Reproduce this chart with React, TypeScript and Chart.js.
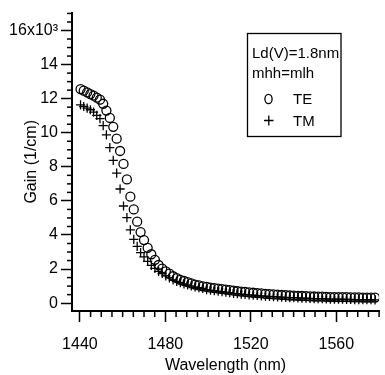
import React, { useEffect, useRef } from 'react';
import { Chart, registerables } from 'chart.js';

Chart.register(...registerables);

// Wavelength (nm)
const wavelength = [
  1440.3, 1441.8, 1443.4, 1444.9, 1446.4, 1447.9, 1449.4, 1450.9, 1452.4, 1454.0,
  1455.6, 1457.2, 1458.8, 1460.4, 1462.0, 1463.6, 1465.2, 1466.8, 1468.4, 1470.0,
  1471.7, 1473.4, 1475.1, 1476.8, 1478.5, 1480.2, 1481.9, 1483.6, 1485.3, 1487.0,
  1488.7, 1490.4, 1492.1, 1493.9, 1495.7, 1497.5, 1499.3, 1501.1, 1502.9, 1504.7,
  1506.5, 1508.3, 1510.1, 1511.9, 1513.7, 1515.5, 1517.3, 1519.2, 1521.1, 1523.0,
  1524.9, 1526.8, 1528.7, 1530.6, 1532.5, 1534.4, 1536.3, 1538.2, 1540.1, 1542.0,
  1543.9, 1545.8, 1547.7, 1549.6, 1551.5, 1553.4, 1555.3, 1557.2, 1559.1, 1561.0,
  1562.9, 1564.8, 1566.7, 1568.6, 1570.5, 1572.4, 1574.3, 1576.2, 1578.1,
];

// Gain, in units of 10^3 1/cm
const gainTE = [
  12.56, 12.47, 12.37, 12.27, 12.18, 12.06, 11.94, 11.70, 11.30, 10.87,
  10.35, 9.65, 8.93, 8.17, 7.26, 6.25, 5.50, 4.78, 4.17, 3.70,
  3.25, 2.87, 2.54, 2.24, 2.03, 1.86, 1.73, 1.58, 1.47, 1.37,
  1.30, 1.23, 1.16, 1.09, 1.04, 0.99, 0.95, 0.91, 0.88, 0.85,
  0.82, 0.79, 0.76, 0.73, 0.70, 0.68, 0.66, 0.63, 0.61, 0.59,
  0.57, 0.55, 0.53, 0.51, 0.50, 0.48, 0.47, 0.45, 0.44, 0.43,
  0.42, 0.41, 0.40, 0.39, 0.38, 0.38, 0.37, 0.36, 0.36, 0.35,
  0.35, 0.35, 0.34, 0.34, 0.34, 0.33, 0.33, 0.33, 0.33,
];

const gainTM = [
  11.64, 11.54, 11.45, 11.35, 11.21, 11.02, 10.83, 10.42, 9.88, 9.13,
  8.38, 7.63, 6.70, 5.70, 5.02, 4.30, 3.74, 3.33, 2.96, 2.72,
  2.45, 2.22, 2.04, 1.87, 1.74, 1.60, 1.48, 1.37, 1.28, 1.20,
  1.13, 1.07, 1.01, 0.96, 0.91, 0.87, 0.80, 0.76, 0.73, 0.70,
  0.67, 0.64, 0.61, 0.58, 0.56, 0.53, 0.51, 0.49, 0.47, 0.45,
  0.43, 0.41, 0.40, 0.38, 0.37, 0.35, 0.34, 0.33, 0.32, 0.31,
  0.30, 0.29, 0.28, 0.27, 0.26, 0.26, 0.25, 0.24, 0.24, 0.23,
  0.23, 0.22, 0.22, 0.21, 0.21, 0.20, 0.20, 0.20, 0.19,
];

const xTickValues = [1440, 1480, 1520, 1560];
const yTickValues = [0, 2, 4, 6, 8, 10, 12, 14, 16];
const yTickLabels = ['0', '2', '4', '6', '8', '10', '12', '14', '16x10³'];
const legendNotes = ['Ld(V)=1.8nm', 'mhh=mlh'];
const seriesNames = ['TE', 'TM'];
const xTitle = 'Wavelength (nm)';
const yTitle = 'Gain (1/cm)';

const FONT = "'Liberation Sans', Arial, sans-serif";

const decorPlugin = {
  id: 'decor',
  afterDraw(chart: any) {
    const { ctx, scales } = chart;
    const x = scales.x;
    const y = scales.y;
    const left = chart.chartArea.left;
    const bottom = chart.chartArea.bottom;
    ctx.save();
    ctx.strokeStyle = '#000';
    ctx.lineWidth = 1.5;
    // minor y ticks
    for (let i = 1; i <= 34; i++) {
      const v = i * 0.5;
      if (i % 4 === 0) continue;
      const py = y.getPixelForValue(v);
      ctx.beginPath();
      ctx.moveTo(left - 5, py);
      ctx.lineTo(left, py);
      ctx.stroke();
    }
    // minor x ticks
    for (let v = 1440; v <= 1580; v += 5) {
      if (v % 40 === 0) continue;
      const px = x.getPixelForValue(v);
      ctx.beginPath();
      ctx.moveTo(px, bottom);
      ctx.lineTo(px, bottom + 6);
      ctx.stroke();
    }
    // legend box
    ctx.lineWidth = 1.3;
    ctx.strokeRect(247.5, 33.5, 93.5, 103);
    ctx.fillStyle = '#000';
    ctx.font = "15px " + FONT;
    ctx.textBaseline = 'alphabetic';
    ctx.textAlign = 'left';
    ctx.fillText(legendNotes[0], 252, 58);
    ctx.fillText(legendNotes[1], 252, 78);
    ctx.fillText(seriesNames[0], 293, 104);
    ctx.fillText(seriesNames[1], 293, 126);
    // legend symbols
    ctx.lineWidth = 1.3;
    ctx.beginPath();
    ctx.ellipse(268.5, 99, 3.6, 4.6, 0, 0, Math.PI * 2);
    ctx.stroke();
    ctx.beginPath();
    ctx.moveTo(264, 120.5);
    ctx.lineTo(273.5, 120.5);
    ctx.moveTo(268.8, 115.5);
    ctx.lineTo(268.8, 125.5);
    ctx.stroke();
    ctx.restore();
  },
};

export default function App() {
  const ref = useRef<HTMLCanvasElement>(null);
  useEffect(() => {
    if (!ref.current) return;
    const chart = new Chart(ref.current, {
      type: 'scatter',
      data: {
        datasets: [
          {
            label: seriesNames[0],
            data: wavelength.map((w, i) => ({ x: w, y: gainTE[i] })),
            pointStyle: 'circle',
            pointRadius: 4.5,
            pointBorderWidth: 1.3,
            borderColor: '#000',
            backgroundColor: 'rgba(0,0,0,0)',
            showLine: false,
          },
          {
            label: seriesNames[1],
            data: wavelength.map((w, i) => ({ x: w, y: gainTM[i] })),
            pointStyle: 'cross',
            pointRadius: 4.6,
            pointBorderWidth: 1.3,
            borderColor: '#000',
            backgroundColor: '#000',
            showLine: false,
          },
        ],
      },
      options: {
        responsive: false,
        animation: false,
        layout: { padding: { top: 8, left: 0, right: 0, bottom: 0 } },
        plugins: {
          legend: { display: false },
          tooltip: { enabled: false },
        },
        scales: {
          x: {
            type: 'linear',
            min: 1436.3,
            max: 1580,
            afterBuildTicks: (s: any) => {
              s.ticks = xTickValues.map((v) => ({ value: v }));
            },
            afterFit: (s: any) => {
              s.height = 64;
            },
            ticks: {
              color: '#000',
              font: { family: FONT, size: 16 },
              padding: 13,
              maxRotation: 0,
              autoSkip: false,
              callback: (v: any) => String(v),
            },
            grid: {
              display: true,
              drawOnChartArea: false,
              drawTicks: true,
              tickLength: 11,
              tickWidth: 1.5,
              tickColor: '#000',
            },
            border: { display: true, color: '#000', width: 2 },
            title: {
              display: true,
              text: xTitle,
              color: '#000',
              font: { family: FONT, size: 16 },
              padding: { top: 0, bottom: 0 },
            },
          },
          y: {
            type: 'linear',
            min: -0.46,
            max: 17.05,
            afterBuildTicks: (s: any) => {
              s.ticks = yTickValues.map((v) => ({ value: v }));
            },
            afterFit: (s: any) => {
              s.width = 72;
            },
            ticks: {
              color: '#000',
              font: { family: FONT, size: 16 },
              padding: 3,
              autoSkip: false,
              callback: (v: any) => {
                const idx = yTickValues.indexOf(Number(v));
                return idx >= 0 ? yTickLabels[idx] : '';
              },
            },
            grid: {
              display: true,
              drawOnChartArea: false,
              drawTicks: true,
              tickLength: 11,
              tickWidth: 1.5,
              tickColor: '#000',
            },
            border: { display: true, color: '#000', width: 2 },
            title: {
              display: true,
              text: yTitle,
              color: '#000',
              font: { family: FONT, size: 16 },
              padding: { top: 22, bottom: 0 },
            },
          },
        },
      },
      plugins: [decorPlugin],
    });
    return () => chart.destroy();
  }, []);
  return (
    <div style={{ position: 'absolute', left: 0, top: 0, width: 385, height: 375, background: '#fff' }}>
      <canvas ref={ref} width={385} height={375} style={{ display: 'block' }} />
    </div>
  );
}
